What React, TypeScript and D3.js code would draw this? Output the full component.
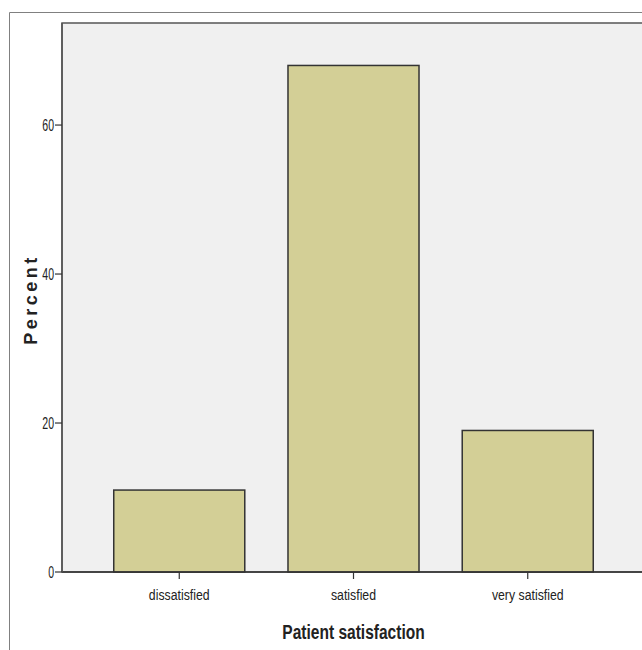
import React from "react";
import * as d3 from "d3";

const categories = ["dissatisfied", "satisfied", "very satisfied"];
const percents = [11, 68, 19];
const yTicks = [0, 20, 40, 60];
const xTitle = "Patient satisfaction";
const yTitle = "Percent";

const W = 642;
const H = 650;
const left = 62;
const right = 645;
const top = 23;
const bottom = 572;
const yMax = 73.7;

export default function App() {
  const x = d3
    .scaleBand<string>()
    .domain(categories)
    .range([left, right])
    .paddingInner(0.248)
    .paddingOuter(0.297);
  const y = d3.scaleLinear().domain([0, yMax]).range([bottom, top]);
  const font = "'Liberation Sans', Arial, sans-serif";
  return (
    <svg
      width={W}
      height={H}
      style={{ position: "absolute", left: 0, top: 0, background: "#fff" }}
    >
      <rect x={0} y={0} width={W} height={H} fill="#fff" />
      {/* outer frame */}
      <path d={`M9.5,${H} V12.5 H${W}`} fill="none" stroke="#808080" strokeWidth={1} />
      {/* plot area */}
      <rect x={left} y={top} width={right - left} height={bottom - top} fill="#f0f0f0" stroke="#555" strokeWidth={1.5} />
      {/* bars */}
      {categories.map((c, i) => (
        <rect
          key={c}
          x={x(c)!}
          y={y(percents[i])}
          width={x.bandwidth()}
          height={bottom - y(percents[i])}
          fill="#d3cf96"
          stroke="#333"
          strokeWidth={1.5}
        />
      ))}
      {/* axes */}
      <line x1={left} x2={right} y1={bottom} y2={bottom} stroke="#333" strokeWidth={1.5} />
      <line x1={left} x2={left} y1={top} y2={bottom} stroke="#555" strokeWidth={1.5} />
      {yTicks.map((t) => (
        <g key={t}>
          <line x1={left - 7} x2={left} y1={y(t)} y2={y(t)} stroke="#333" strokeWidth={1.2} />
          <text
            transform={`translate(${left - 8},${y(t)}) scale(0.62,1)`}
            dy="0.36em"
            textAnchor="end"
            fontFamily={font}
            fontSize={17}
            fill="#222"
          >
            {t}
          </text>
        </g>
      ))}
      {categories.map((c) => {
        const cx = x(c)! + x.bandwidth() / 2;
        return (
          <g key={c}>
            <line x1={cx} x2={cx} y1={bottom} y2={bottom + 7} stroke="#333" strokeWidth={1.2} />
            <text
              transform={`translate(${cx},600) scale(0.82,1)`}
              textAnchor="middle"
              fontFamily={font}
              fontSize={15}
              fill="#222"
            >
              {c}
            </text>
          </g>
        );
      })}
      <text
        transform={`translate(${x("satisfied")! + x.bandwidth() / 2},639) scale(0.74,1)`}
        textAnchor="middle"
        fontFamily={font}
        fontWeight="bold"
        fontSize={21}
        fill="#222"
      >
        {xTitle}
      </text>
      <text
        transform={`translate(37,${(top + bottom) / 2 + 2}) rotate(-90)`}
        textAnchor="middle"
        fontFamily={font}
        fontWeight="bold"
        fontSize={18}
        letterSpacing={3.5}
        fill="#222"
      >
        {yTitle}
      </text>
    </svg>
  );
}
